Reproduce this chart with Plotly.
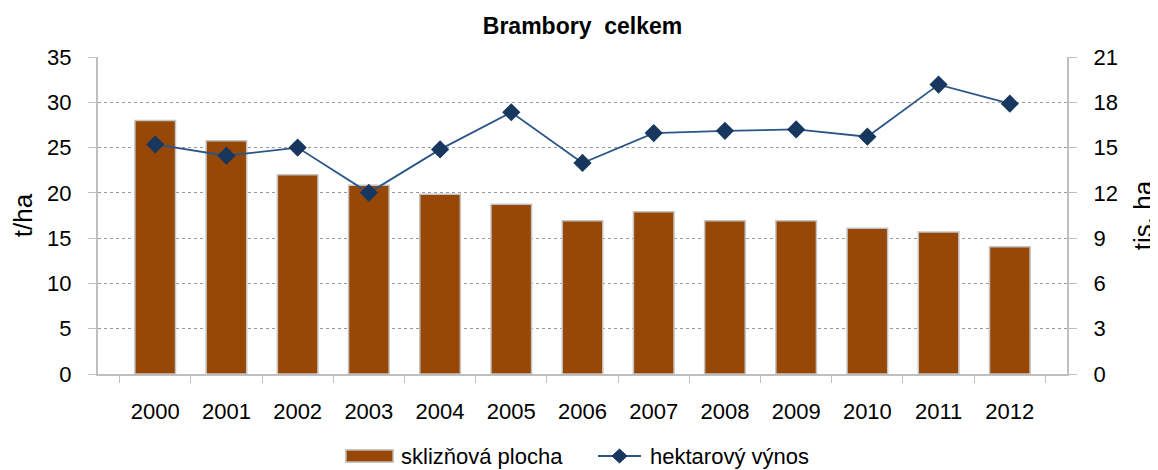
# Brambory celkem: sklizňová plocha (bars) + hektarový výnos (line)

import plotly.graph_objects as go

years = ["2000", "2001", "2002", "2003", "2004", "2005", "2006",
         "2007", "2008", "2009", "2010", "2011", "2012"]
# sklizňová plocha, tis. ha (right axis)
plocha = [16.8, 15.45, 13.2, 12.5, 11.9, 11.25, 10.15,
          10.75, 10.15, 10.15, 9.65, 9.4, 8.43]
# hektarový výnos, t/ha (left axis)
vynos = [25.35, 24.1, 25.0, 20.0, 24.8, 28.9, 23.3,
         26.6, 26.85, 27.0, 26.2, 31.95, 29.85]

FONT = "Liberation Sans, Arial, sans-serif"
GRID = "#bfbfbf"
BAR = "#974806"
LINE = "#2b5587"
MARK = "#17375e"

# page body has an 8px margin, so the figure is 8px smaller than the window
W, H, OFF = 1150, 462, 8
# plot area in screen pixels: x 98..1067, y 57..374
L, R, T, B = 98, 1067, 57, 374
LEG_Y = 456  # legend row centre, screen pixels


def px(x):
    return (x - L) / (R - L)


def py(y):
    return (B - y) / (B - T)


fig = go.Figure()

fig.add_trace(go.Bar(
    x=years, y=plocha, name="sklizňová plocha", yaxis="y",
    marker=dict(color=BAR, line=dict(color="#c4c4c4", width=1.5)),
))
fig.add_trace(go.Scatter(
    x=years, y=vynos, name="hektarový výnos", yaxis="y2",
    mode="lines+markers",
    line=dict(color=LINE, width=1.8),
    marker=dict(symbol="diamond", size=14, color=MARK),
))

# legend drawn by hand so the bar swatch is a wide box like the original
legend_shapes = [
    dict(type="rect", xref="paper", yref="paper",
         x0=px(346), x1=px(393), y0=py(LEG_Y + 6), y1=py(LEG_Y - 6),
         fillcolor=BAR, line=dict(color="#b8b8b8", width=1.5)),
    dict(type="line", xref="paper", yref="paper",
         x0=px(598), x1=px(641), y0=py(LEG_Y), y1=py(LEG_Y),
         line=dict(color=LINE, width=1.8)),
    dict(type="path", xref="paper", yref="paper",
         path=(f"M {px(612)} {py(LEG_Y)} L {px(619.5)} {py(LEG_Y - 7)} "
               f"L {px(627)} {py(LEG_Y)} L {px(619.5)} {py(LEG_Y + 7)} Z"),
         fillcolor=MARK, line=dict(color=MARK, width=1)),
]
legend_notes = [
    dict(text="sklizňová plocha", xref="paper", yref="paper",
         x=px(399), y=py(LEG_Y), xanchor="left", yanchor="middle",
         showarrow=False, font=dict(size=22)),
    dict(text="hektarový výnos", xref="paper", yref="paper",
         x=px(648), y=py(LEG_Y), xanchor="left", yanchor="middle",
         showarrow=False, font=dict(size=22)),
]

fig.update_layout(
    width=W, height=H,
    margin=dict(l=L - OFF, r=W - (R - OFF), t=T - OFF, b=H - (B - OFF)),
    paper_bgcolor="white", plot_bgcolor="white",
    font=dict(family=FONT, size=22, color="black"),
    title=dict(text="<b>Brambory  celkem</b>", x=0.5, xref="paper",
               y=0.961, yanchor="middle",
               font=dict(size=23, family=FONT)),
    bargap=0.43,
    showlegend=False,
    shapes=legend_shapes,
    annotations=legend_notes,
    xaxis=dict(
        type="category", tickson="boundaries",
        ticks="outside", ticklen=7, tickcolor=GRID,
        showline=True, linecolor=GRID, linewidth=2,
        showgrid=False, ticklabelstandoff=17, automargin=False,
    ),
    yaxis=dict(
        side="right", range=[0, 21], dtick=3,
        showgrid=True, gridcolor="#9a9a9a", griddash="dot", gridwidth=1,
        showline=True, linecolor=GRID, linewidth=2,
        ticks="outside", ticklen=8, tickcolor=GRID,
        ticklabelstandoff=12, zeroline=False, automargin=False,
        title=dict(text="tis. ha", standoff=27),
    ),
    yaxis2=dict(
        side="left", overlaying="y", range=[0, 35], dtick=5,
        showgrid=False,
        showline=True, linecolor=GRID, linewidth=2,
        ticks="outside", ticklen=8, tickcolor=GRID,
        ticklabelstandoff=12, zeroline=False, automargin=False,
        title=dict(text="t/ha", standoff=7),
    ),
)

fig.write_html("out.html")
